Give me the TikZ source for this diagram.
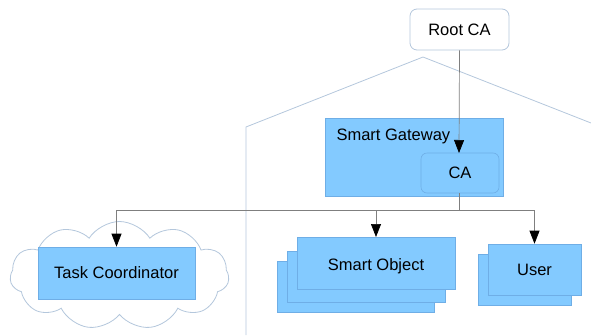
\documentclass[tikz,border=0pt]{standalone}
\usepackage{fontspec}
\setmainfont{Liberation Sans}
\usetikzlibrary{arrows.meta,shapes.symbols}
\definecolor{boxfill}{HTML}{83CAFF}
\definecolor{boxline}{HTML}{6FAEE6}
\definecolor{paleline}{HTML}{B4C7DC}
\definecolor{wire}{HTML}{7F7F7F}
\tikzset{
  x=1pt, y=-1pt,
  lbl/.style={font=\fontsize{16.5}{20}\selectfont, text=black},
  bluebox/.style={draw=boxline, fill=boxfill, line width=0.6pt, inner sep=0pt, lbl},
  wirearrow/.style={draw=wire, line width=0.7pt, -{Triangle[width=10pt,length=13pt,black]}},
  wireline/.style={draw=wire, line width=0.7pt},
  outline/.style={draw=paleline, line width=0.8pt}
}
\begin{document}
\begin{tikzpicture}
\useasboundingbox (0,0) rectangle (591,335);
% house outline around the gateway domain
\draw[outline] (246,335) -- (246,127) -- (423,57) -- (591,123);
% cloud behind the task coordinator
\node[cloud, cloud puffs=11, cloud puff arc=115, aspect=2.0, outline, fill=white,
      minimum width=219pt, minimum height=108pt, inner sep=0pt] (cloud) at (119.5,275.5) {};
% root certificate authority
\node[draw=paleline, line width=0.8pt, rounded corners=7pt, fill=white, lbl,
      minimum width=99pt, minimum height=41pt] (root) at (459.5,29.5) {Root CA};
% smart gateway with embedded CA
\node[bluebox, minimum width=178pt, minimum height=78pt] (gw) at (414,157) {};
\node[lbl, anchor=base west] (gwlabel) at (333,140) {Smart Gateway};
\node[bluebox, rounded corners=6pt, minimum width=78pt, minimum height=40pt] (ca) at (460,173) {CA};
% task coordinator
\node[bluebox, minimum width=157pt, minimum height=52pt] (tc) at (116.5,273) {Task Coordinator};
% stacked smart objects
\node[bluebox, minimum width=157pt, minimum height=51pt] (so3) at (355.5,286.5) {};
\node[bluebox, minimum width=158pt, minimum height=51pt] (so2) at (366,276.5) {};
\node[bluebox, minimum width=158pt, minimum height=52pt, anchor=north] (so) at (376,237) {};
\node[lbl, anchor=base] (solabel) at (376,270) {Smart Object};
% stacked users
\node[bluebox, minimum width=93pt, minimum height=51pt] (user2) at (524.5,279.5) {};
\node[bluebox, minimum width=93pt, minimum height=51pt] (user) at (534.5,269.5) {User};
% connectors
\coordinate (bus) at (459,210);
\draw[wirearrow] (root.south) -- (459,153);
\draw[wireline] (459,193) -- (bus);
\draw[wirearrow] (bus) -| (tc.north);
\draw[wirearrow] (bus) -| (so.north);
\draw[wirearrow] (bus) -| (user.north);
\end{tikzpicture}
\end{document}
